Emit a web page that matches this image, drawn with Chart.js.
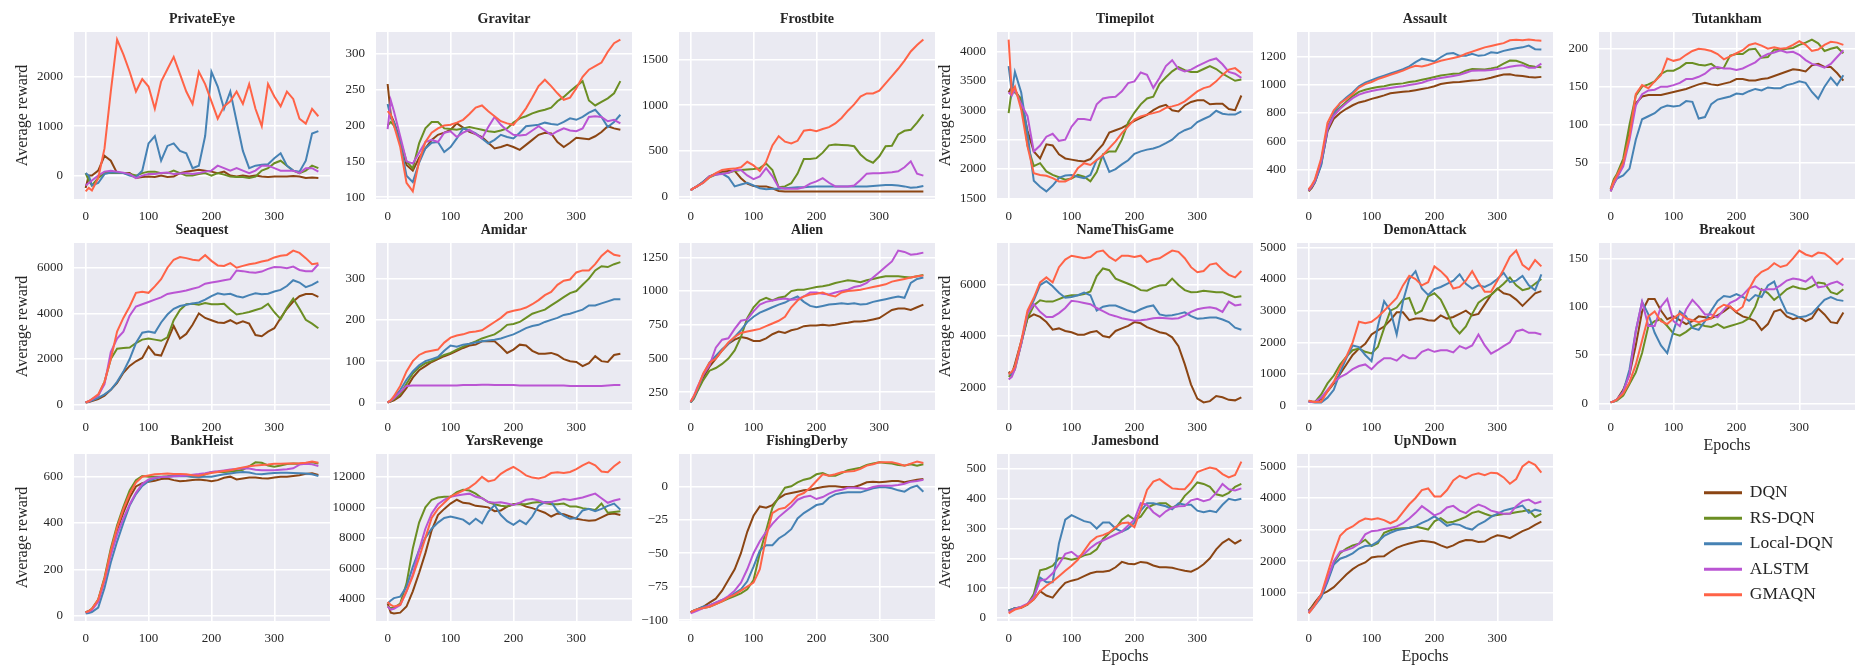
<!DOCTYPE html>
<html>
<head>
<meta charset="utf-8">
<script src="https://cdn.jsdelivr.net/npm/chart.js@4.4.1/dist/chart.umd.min.js"></script>
<style>
  html, body { margin: 0; padding: 0; background: #fff; overflow: hidden; }
  #fig { position: relative; width: 1862px; height: 672px; overflow: hidden; }
  #fig canvas { position: absolute; }
</style>
</head>
<body>
<div id="fig"></div>
<script>
// x values shared by every panel
const epochs = [0,5,10,20,30,40,50,60,70,80,90,100,110,120,130,140,150,160,170,180,190,200,210,220,230,240,250,260,270,280,290,300,310,320,330,340,350,360,370];
const xTickValues = [0, 100, 200, 300];

const seriesNames = ['DQN', 'RS-DQN', 'Local-DQN', 'ALSTM', 'GMAQN'];
const seriesColors = ['#8B4513', '#6B8E23', '#4682B4', '#BA55D3', '#FF6347'];

const gameNames = ['PrivateEye','Gravitar','Frostbite','Timepilot','Assault','Tutankham',
                   'Seaquest','Amidar','Alien','NameThisGame','DemonAttack','Breakout',
                   'BankHeist','YarsRevenge','FishingDerby','Jamesbond','UpNDown'];

// PrivateEye
const peDQN   = [-250,0,0,100,400,300,50,50,50,-50,-30,-20,-30,0,-30,-20,50,80,100,120,100,80,50,80,0,-20,0,-20,0,-20,-30,-20,-20,-20,-10,-20,-50,-40,-50];
const peRS    = [50,-100,-200,-50,50,50,50,50,30,0,50,80,80,50,50,100,50,0,0,30,50,0,50,20,-20,-30,-30,-50,-20,100,150,250,300,200,100,50,100,200,150];
const peLocal = [50,0,-200,-150,30,60,60,50,0,-30,100,650,800,300,600,650,500,450,150,200,800,2100,1800,1350,1700,1100,500,150,200,220,230,350,450,200,100,80,300,850,900];
const peALSTM = [-200,-150,-100,0,80,100,80,60,30,-50,0,30,30,50,60,30,40,50,30,50,80,100,200,150,100,150,100,50,100,200,200,150,100,100,100,50,150,150,80];
const peGMAQN = [-320,-250,-300,-50,550,1700,2750,2450,2100,1700,1950,1800,1350,1900,2150,2400,2050,1700,1450,2100,1850,1500,1150,1400,1500,1700,1450,1850,1350,1000,1850,1600,1400,1700,1550,1150,1050,1350,1200];
const peTicks = [0, 1000, 2000];

// Gravitar
const gvDQN   = [258,215,205,180,145,137,155,168,180,187,190,194,203,197,191,188,184,176,168,170,173,170,166,173,180,187,190,189,177,170,176,183,182,181,185,191,199,196,194];
const gvRS    = [200,205,200,180,150,140,175,196,205,205,196,195,194,196,198,196,194,192,191,193,196,204,210,213,217,220,222,225,234,240,248,255,262,235,228,233,238,245,262];
const gvLocal = [230,210,205,175,130,121,148,168,176,177,163,170,182,196,193,189,182,175,180,187,184,182,190,199,200,201,204,202,201,205,210,208,212,218,222,212,198,205,215];
const gvALSTM = [195,235,220,185,150,147,162,177,180,177,190,192,184,190,194,188,182,198,212,201,193,187,186,187,193,199,193,187,192,196,193,192,196,212,213,212,206,208,203];
const gvGMAQN = [220,215,200,170,120,108,150,177,190,196,200,201,204,208,216,225,228,220,213,206,203,201,212,224,239,255,264,255,245,236,239,252,268,278,283,288,303,315,320];
const gvTicks = [100, 150, 200, 250, 300];

// Frostbite
const fbDQN   = [70,90,110,160,220,250,270,280,280,200,140,115,110,110,90,60,55,55,55,55,55,55,55,55,55,55,55,55,55,55,55,55,55,55,55,55,55,55,55];
const fbRS    = [70,90,110,150,210,240,250,260,280,290,295,300,310,360,290,100,110,145,250,410,410,420,480,560,570,565,560,550,460,400,370,440,550,555,680,720,730,810,900];
const fbLocal = [70,90,110,160,220,240,250,210,110,130,150,120,90,80,85,85,90,95,100,100,105,110,110,110,110,110,110,110,110,110,115,120,125,125,120,110,95,100,115];
const fbALSTM = [70,90,110,150,220,240,245,260,290,290,230,190,220,310,220,100,85,85,85,100,140,165,200,150,110,110,110,120,180,250,255,255,260,265,275,320,385,250,228];
const fbGMAQN = [70,90,110,150,210,256,290,300,305,320,380,340,280,380,560,660,600,580,610,720,730,715,740,760,800,860,940,1010,1095,1130,1130,1160,1240,1320,1400,1490,1590,1660,1720];
const fbTicks = [0, 500, 1000, 1500];

// Timepilot
const tpDQN   = [3300,3400,3350,3150,2650,2300,2180,2420,2400,2250,2180,2160,2140,2130,2170,2300,2420,2620,2660,2700,2760,2820,2870,2920,3000,3060,3090,3000,2980,3080,3140,3170,3170,3100,3110,3110,3020,3000,3250];
const tpRS    = [2950,3350,3300,3200,2400,2050,2100,1960,1900,1860,1820,1840,1900,1870,1790,1950,2250,2300,2300,2500,2790,2960,3100,3200,3230,3450,3560,3660,3730,3680,3650,3650,3700,3750,3700,3620,3560,3500,3520];
const tpLocal = [3750,3300,3650,3300,2600,1800,1700,1620,1720,1850,1890,1900,1870,1845,1900,2155,2215,1950,2000,2080,2150,2260,2300,2330,2350,2385,2440,2500,2600,2660,2700,2800,2850,2900,2990,2940,2925,2925,2980];
const tpALSTM = [3300,3250,3350,3100,2900,2300,2400,2550,2600,2480,2500,2720,2850,2850,2830,3100,3200,3220,3230,3320,3460,3490,3640,3600,3380,3550,3750,3850,3700,3660,3690,3750,3800,3850,3880,3780,3650,3620,3550];
const tpGMAQN = [4200,3300,3400,3010,2385,1930,1900,1885,1845,1790,1790,1845,2015,2100,2070,2155,2240,2355,2470,2610,2725,2840,2895,2925,2950,2980,3040,3065,3095,3150,3235,3320,3375,3405,3490,3600,3690,3715,3630];
const tpTicks = [1500, 2000, 2500, 3000, 3500, 4000];

// Assault
const asDQN   = [245,270,310,440,670,760,800,830,855,875,885,900,912,925,940,945,950,955,962,970,978,990,1005,1012,1018,1020,1025,1030,1033,1040,1050,1062,1072,1075,1065,1062,1055,1052,1056];
const asRS    = [250,280,320,460,700,790,840,880,920,950,965,975,985,990,1000,1005,1010,1020,1025,1035,1045,1055,1065,1072,1078,1080,1100,1112,1110,1108,1115,1125,1150,1172,1170,1155,1135,1128,1125];
const asLocal = [260,280,310,430,680,800,870,910,945,990,1015,1033,1050,1065,1080,1095,1110,1130,1160,1185,1175,1165,1195,1220,1225,1205,1205,1220,1205,1210,1230,1225,1240,1250,1258,1265,1278,1252,1250];
const asALSTM = [250,280,320,460,690,780,830,870,905,930,945,956,965,972,978,984,990,998,1005,1015,1030,1040,1048,1055,1062,1070,1085,1100,1102,1102,1105,1112,1118,1128,1135,1138,1120,1120,1150];
const asGMAQN = [260,290,330,480,730,820,870,900,935,980,1005,1020,1040,1055,1070,1085,1100,1120,1135,1130,1140,1155,1170,1180,1190,1200,1220,1235,1250,1265,1275,1285,1295,1315,1318,1315,1320,1315,1312];
const asTicks = [400, 600, 800, 1000, 1200];

// Tutankham
const tuDQN   = [12,22,30,48,90,128,137,139,139,139,141,143,145,147,150,153,155,153,152,154,156,160,160,158,158,160,161,164,167,170,173,172,170,178,180,176,176,168,158];
const tuRS    = [15,28,35,55,100,138,150,153,157,167,171,171,175,181,181,179,178,180,174,175,191,193,193,199,200,188,189,199,198,200,201,205,208,212,207,197,200,202,194];
const tuLocal = [14,22,29,33,42,80,107,111,115,122,125,124,125,131,130,108,110,127,133,135,137,141,140,144,147,145,149,148,148,152,154,157,155,143,134,150,162,152,165];
const tuALSTM = [12,22,30,45,80,125,140,145,146,150,150,152,155,160,160,163,167,174,176,174,174,172,174,178,182,189,193,195,198,195,196,192,185,180,178,175,180,189,198];
const tuGMAQN = [15,25,33,50,85,140,152,148,157,165,187,184,186,192,197,200,199,197,193,186,190,194,198,205,207,204,200,202,200,201,205,210,205,197,199,205,209,208,205];
const tuTicks = [50, 100, 150, 200];

// Seaquest
const sqDQN   = [100,120,160,250,400,650,950,1400,1700,1900,2050,2550,2200,2150,2800,3450,2900,3100,3500,4000,3800,3700,3600,3580,3700,3550,3650,3550,3050,3000,3200,3350,3800,4200,4520,4750,4850,4850,4720];
const sqRS    = [100,150,220,400,1000,2000,2450,2480,2500,2700,2850,2900,2850,2800,2950,3700,4150,4400,4420,4380,4450,4400,4400,4420,4170,3950,4000,4060,4150,4230,4420,4050,3750,4250,4650,4200,3720,3550,3350];
const sqLocal = [100,130,180,300,450,650,1000,1450,2000,2700,3150,3200,3150,3600,3950,4200,4320,4380,4430,4480,4600,4760,4880,4830,4860,4750,4700,4800,4880,4840,4860,4960,5030,5200,5450,5350,5150,5250,5400];
const sqALSTM = [100,150,230,400,900,2300,2900,3200,3900,4300,4400,4500,4600,4700,4850,4900,4950,5000,5080,5150,5300,5350,5400,5450,5500,5880,5850,5800,5780,5830,5950,6030,6020,5980,6050,5900,5850,5850,6150];
const sqGMAQN = [100,150,250,450,1000,2000,3200,3800,4300,4900,4950,4900,5180,5500,6000,6350,6470,6420,6350,6320,6550,6300,6100,6080,6200,6000,6080,6150,6200,6270,6330,6450,6520,6560,6750,6650,6420,6150,6200];
const sqTicks = [0, 2000, 4000, 6000];

// Amidar
const amDQN   = [0,2,5,15,35,60,78,88,98,105,112,118,125,132,138,140,148,148,148,135,120,128,140,138,125,118,118,120,115,105,100,98,88,95,112,100,98,115,118];
const amRS    = [0,3,8,20,45,70,85,95,100,108,115,120,128,135,142,148,155,160,165,175,188,190,195,205,215,220,225,235,245,255,265,270,285,300,320,330,328,335,340];
const amLocal = [0,5,12,30,55,75,90,100,105,110,125,138,135,140,142,145,148,150,152,155,160,165,172,180,185,188,195,200,205,212,215,220,225,235,235,240,245,250,250];
const amALSTM = [0,4,10,25,40,41,41,41,41,41,41,41,41,42,42,42,43,43,42,42,42,42,41,41,41,41,41,41,41,41,40,40,40,40,40,40,41,42,42];
const amGMAQN = [0,5,15,40,75,100,115,122,125,128,145,157,162,165,170,172,175,185,195,205,218,222,225,230,238,248,260,268,285,295,298,315,320,320,335,355,368,358,355];
const amTicks = [0, 100, 200, 300];

// Alien
const alDQN   = [175,215,260,360,440,500,560,610,640,660,650,630,630,650,680,700,690,710,720,740,745,745,750,745,750,760,765,775,775,780,790,800,830,860,870,870,860,880,900];
const alRS    = [175,200,250,340,410,430,460,500,560,660,800,880,930,950,930,950,960,1000,1010,1010,1020,1030,1035,1045,1060,1070,1080,1075,1065,1080,1090,1100,1110,1110,1110,1105,1100,1110,1120];
const alLocal = [175,210,260,380,470,520,570,610,660,710,770,810,840,860,880,900,915,940,960,920,890,880,890,900,905,910,905,910,900,905,920,930,940,950,960,950,1060,1090,1100];
const alALSTM = [180,220,280,380,450,580,640,650,720,780,790,850,900,920,930,940,945,935,940,960,990,990,980,975,990,1000,1010,1030,1040,1060,1100,1140,1180,1220,1300,1290,1270,1275,1285];
const alGMAQN = [180,220,270,390,470,500,560,620,660,690,700,710,720,740,760,780,810,880,930,960,975,980,990,970,960,990,1000,1005,1010,1020,1030,1040,1050,1070,1080,1090,1100,1110,1115];
const alTicks = [250, 500, 750, 1000, 1250];

// NameThisGame
const ntDQN   = [2600,2500,2900,3800,4700,4850,4750,4550,4250,4300,4200,4150,4050,4050,4150,4200,4000,3950,4200,4300,4400,4550,4500,4350,4250,4150,4100,3950,3600,2900,2100,1550,1400,1450,1650,1600,1500,1480,1600];
const ntRS    = [2400,2500,2700,3700,4700,5200,5400,5350,5350,5450,5550,5600,5600,5650,5750,6350,6650,6580,6250,6150,6050,5950,5800,5780,5900,5980,6000,6250,6000,5800,5720,5730,5780,5750,5720,5720,5620,5520,5560];
const ntLocal = [2500,2500,2800,3700,4900,5400,6000,6150,5950,5700,5500,5530,5600,5700,5600,5000,5150,5200,5200,5100,5000,4930,5050,5150,5200,4850,4800,4820,4870,4930,4780,4680,4700,4730,4730,4650,4550,4330,4250];
const ntALSTM = [2300,2400,2700,3700,4900,5250,4950,4750,4750,4900,5100,5380,5350,5300,5250,5100,4980,4850,4780,4700,4650,4600,4620,4650,4700,4720,4700,4680,4700,4800,4950,5050,5100,5130,5080,4950,5350,5200,5240];
const ntGMAQN = [2500,2600,2800,3800,5000,5500,6100,6300,6100,6700,7000,7150,7100,7050,7100,7300,7350,7100,6950,7150,7150,7100,7150,6900,7000,7050,7200,7350,7300,7050,6700,6500,6550,6800,6850,6600,6400,6300,6550];
const ntTicks = [2000, 4000, 6000];

// DemonAttack
const daDQN   = [150,130,120,200,450,700,1000,1300,1600,1800,1950,2250,2380,2500,2700,2950,2950,2700,2750,2750,2700,2680,2850,2750,2800,2900,3000,2850,2900,3200,3500,3700,3550,3500,3350,3150,3350,3550,3620];
const daRS    = [120,110,110,350,700,950,1300,1550,1750,1800,1700,1650,1850,2450,3000,3100,3350,3400,2900,3000,3450,3550,3350,2950,2500,2280,2500,2900,3250,3400,3500,3680,3850,4050,3800,3650,3700,3850,4000];
const daLocal = [120,110,100,100,250,500,1050,1500,1900,1850,1600,1400,2500,3300,3000,2250,3300,4000,4250,3700,3500,3680,3750,3850,3950,4150,3850,3700,3800,3750,3850,4000,4200,3900,3950,4100,3800,3650,4150];
const daALSTM = [120,110,110,250,500,750,900,1000,1150,1250,1300,1150,1350,1500,1500,1420,1600,1500,1500,1700,1780,1700,1750,1750,1680,1880,1800,1900,2250,1900,1640,1750,1880,2000,2350,2400,2300,2300,2250];
const daGMAQN = [150,130,110,120,450,750,1200,1550,2000,2650,2600,2650,2800,3000,3200,3400,3800,4100,4000,3800,3900,4400,4250,4050,3700,3750,3950,4250,3900,3600,3600,3950,4300,4700,4900,4450,4300,4600,4400];
const daTicks = [0, 1000, 2000, 3000, 4000, 5000];

// Breakout
const brDQN   = [1,2,4,14,30,60,95,108,108,96,87,90,86,82,85,90,89,88,91,95,100,94,90,88,85,76,82,95,97,90,87,89,85,88,98,92,84,83,94];
const brRS    = [1,2,3,8,20,32,52,80,85,87,80,72,70,74,79,82,80,79,82,78,80,82,84,88,100,118,114,107,112,118,121,119,118,121,125,124,115,113,118];
const brLocal = [1,2,4,12,35,75,105,92,73,60,52,75,95,90,78,76,85,96,106,111,110,113,110,106,112,110,122,126,108,94,92,89,90,93,100,107,110,107,106];
const brALSTM = [1,2,4,12,30,75,105,80,80,100,108,85,80,97,107,100,92,92,89,97,104,107,112,119,121,117,118,118,122,127,129,128,126,131,120,121,124,126,122];
const brGMAQN = [1,2,4,10,22,40,65,90,95,85,82,88,93,88,86,84,86,88,98,102,100,95,100,118,130,136,139,145,141,143,150,158,154,152,156,155,150,144,150];
const brTicks = [0, 50, 100, 150];

// BankHeist
const bhDQN   = [15,20,28,65,155,270,370,445,510,558,572,578,582,590,592,585,580,582,586,588,585,580,585,595,600,588,592,596,596,593,592,596,600,600,603,606,612,615,607];
const bhRS    = [15,20,30,70,165,290,390,470,540,585,603,600,600,600,602,605,607,604,600,600,610,620,621,620,622,625,630,645,662,660,648,643,648,655,657,656,657,662,657];
const bhLocal = [10,12,16,35,120,230,320,400,475,525,560,580,592,598,600,602,603,602,600,598,600,600,605,610,614,618,620,618,612,610,614,616,617,617,616,615,614,610,603];
const bhALSTM = [15,18,25,60,150,260,350,420,480,530,568,588,595,598,600,602,603,605,608,611,615,620,623,627,631,633,636,635,630,628,628,628,630,632,636,652,656,653,646];
const bhGMAQN = [15,20,30,70,160,280,380,460,525,575,600,605,610,612,614,612,612,610,606,604,610,616,620,624,628,634,640,645,648,650,652,656,656,657,657,658,660,665,660];
const bhTicks = [0, 200, 400, 600];

// YarsRevenge
const yrDQN   = [3700,3100,3050,3100,3500,4500,5700,7000,8500,9500,9900,10250,10500,10300,10250,10100,10050,10000,9750,9800,10050,10200,10250,10050,9950,9800,9650,9400,9600,9550,9400,9250,9180,9130,9150,9350,9550,9600,9500];
const yrRS    = [3500,3400,3400,3700,5000,7300,9000,10000,10500,10650,10700,10700,11000,11150,11100,10900,10600,10350,10200,10100,10050,10200,10200,10200,10300,10350,10280,10200,10200,10250,10050,10050,9950,9900,9830,10250,9650,9700,9750];
const yrLocal = [3700,3900,4050,4150,4800,6100,7200,8000,8600,9000,9300,9400,9300,9200,8900,9250,8950,9700,10150,9500,9100,8850,9150,8900,9400,10100,10350,10350,9750,9450,9250,9300,9800,9900,9750,9900,10100,10250,9850];
const yrALSTM = [3500,3300,3350,3600,4500,5600,7200,8600,9600,10200,10500,10700,10780,10850,10900,10700,10600,10350,10300,10330,10250,10150,10300,10500,10550,10450,10300,10350,10450,10550,10480,10570,10650,10780,10900,10600,10300,10450,10550];
const yrGMAQN = [3800,3600,3500,3600,4500,5500,6700,8000,9300,9900,10300,10700,10900,11100,11300,11600,12000,11700,11800,12200,12450,12650,12400,12100,11950,11900,12000,12250,12300,12250,12320,12500,12750,12950,12750,12350,12300,12700,13000];
const yrTicks = [4000, 6000, 8000, 10000, 12000];

// FishingDerby
const fdDQN   = [-94,-93,-92,-90,-87,-84,-78,-70,-62,-50,-34,-22,-15,-16,-14,-9,-6,-5,-4,-3,-2.5,-1.5,-0.5,0,0,-0.5,-0.5,-0.5,1,3,3.5,3,3.5,4,4,3,4,5,5.5];
const fdRS    = [-94,-93,-92,-91,-90,-88,-86,-84,-82,-80,-77,-70,-50,-33,-16,-8,-1,0,3,5,6,9,10,8,8,10,12,13,14,16,17,18,17.5,17,16,15.5,16.5,15.5,16.5];
const fdLocal = [-94,-93,-92,-90,-89,-87,-85,-83,-80,-77,-71,-60,-48,-44,-44,-39,-36,-32,-24,-20,-17,-14,-13,-8.5,-6,-5,-4.5,-4.5,-4.5,-3,-1.5,-0.7,-0.7,-1.5,-3,-4,-1,0.5,-4];
const fdALSTM = [-95,-94,-93,-91,-89,-87,-85,-82,-78,-72,-62,-50,-41,-34,-28,-23,-19,-15,-10,-8,-7,-9.5,-8,-5.5,-3.5,-2.5,-1,-1,-1.5,-2,-0.5,0.5,0.5,0.5,1,2,3.5,4,5];
const fdGMAQN = [-94,-93,-92,-91,-90,-88,-86,-83,-81,-78,-75,-72,-62,-38,-20,-17,-16,-12,-7,-5,-1,4,9,8,9,10.5,11,11.5,13,15.5,16.5,18,18,18,17,15.5,17,18.5,17.5];
const fdTicks = [-100, -75, -50, -25, 0];

// Jamesbond
const jbDQN   = [25,28,32,35,45,62,90,75,68,95,118,125,130,140,150,155,155,158,170,188,182,180,188,185,176,170,170,168,163,158,155,165,180,200,230,252,265,250,262];
const jbRS    = [25,28,32,35,45,80,160,165,175,200,200,195,200,210,215,230,265,285,300,330,345,330,340,370,380,385,385,370,380,410,430,455,450,440,415,410,420,440,450];
const jbLocal = [25,28,32,35,45,70,135,120,120,250,330,345,335,325,320,300,320,320,300,290,300,320,360,385,385,380,375,365,385,380,380,360,355,360,355,380,400,395,400];
const jbALSTM = [20,24,30,38,48,70,125,130,150,180,215,222,205,215,235,250,260,270,280,290,310,330,385,380,355,340,358,370,375,376,395,400,392,398,420,450,432,428,435];
const jbGMAQN = [15,22,28,34,45,62,90,108,122,140,158,175,195,225,255,272,278,287,305,318,320,305,365,430,458,466,450,435,433,432,455,490,498,505,500,483,472,480,525];
const jbTicks = [0, 100, 200, 300, 400, 500];

// UpNDown
const udDQN   = [440,560,700,950,1050,1180,1380,1580,1750,1880,1960,2120,2150,2160,2300,2420,2500,2560,2610,2650,2620,2590,2500,2430,2500,2610,2670,2660,2610,2620,2740,2820,2790,2730,2840,2950,3030,3150,3250];
const udRS    = [420,520,640,900,1400,1950,2250,2400,2500,2550,2680,2480,2570,2900,2980,3030,3040,3050,3100,3050,3000,3260,3360,3220,3250,3320,3400,3530,3580,3500,3430,3460,3490,3510,3550,3580,3620,3400,3500];
const udLocal = [370,480,600,860,1350,1900,2080,2150,2250,2400,2480,2500,2620,2800,2900,2980,3020,3060,3110,3210,3300,3420,3280,3120,3180,3150,3050,3000,3160,3260,3400,3500,3600,3650,3700,3760,3530,3630,3580];
const udALSTM = [400,500,620,950,1450,2000,2300,2350,2420,2550,2850,2950,2970,3020,3050,3100,3200,3350,3530,3740,3600,3450,3530,3700,3750,3600,3520,3680,3790,3720,3600,3550,3500,3500,3740,3900,3950,3830,3890];
const udGMAQN = [350,480,620,950,1600,2250,2800,3000,3100,3250,3350,3320,3360,3300,3200,3300,3550,3800,4000,4250,4300,4050,4050,4250,4550,4700,4620,4730,4780,4720,4800,4780,4650,4450,4600,5000,5150,5050,4800];
const udTicks = [1000, 2000, 3000, 4000, 5000];

// tables built from the arrays above
const gameSeries = [
  [peDQN, peRS, peLocal, peALSTM, peGMAQN],
  [gvDQN, gvRS, gvLocal, gvALSTM, gvGMAQN],
  [fbDQN, fbRS, fbLocal, fbALSTM, fbGMAQN],
  [tpDQN, tpRS, tpLocal, tpALSTM, tpGMAQN],
  [asDQN, asRS, asLocal, asALSTM, asGMAQN],
  [tuDQN, tuRS, tuLocal, tuALSTM, tuGMAQN],
  [sqDQN, sqRS, sqLocal, sqALSTM, sqGMAQN],
  [amDQN, amRS, amLocal, amALSTM, amGMAQN],
  [alDQN, alRS, alLocal, alALSTM, alGMAQN],
  [ntDQN, ntRS, ntLocal, ntALSTM, ntGMAQN],
  [daDQN, daRS, daLocal, daALSTM, daGMAQN],
  [brDQN, brRS, brLocal, brALSTM, brGMAQN],
  [bhDQN, bhRS, bhLocal, bhALSTM, bhGMAQN],
  [yrDQN, yrRS, yrLocal, yrALSTM, yrGMAQN],
  [fdDQN, fdRS, fdLocal, fdALSTM, fdGMAQN],
  [jbDQN, jbRS, jbLocal, jbALSTM, jbGMAQN],
  [udDQN, udRS, udLocal, udALSTM, udGMAQN]
];
const gameTicks = [peTicks, gvTicks, fbTicks, tpTicks, asTicks, tuTicks, sqTicks, amTicks, alTicks,
                   ntTicks, daTicks, brTicks, bhTicks, yrTicks, fdTicks, jbTicks, udTicks];
const epochsLabelled = ['Breakout', 'Jamesbond', 'UpNDown'];

// ---- layout (px) ----
const COL_LEFT = [74, 376, 679, 997, 1297, 1599];
const ROW_TOP = [32, 243, 454];
const PLOT_W = 256, PLOT_H = 167;
const AXIS_W = 62, RIGHT_PAD = 6, TITLE_H = 26;
const XAXIS_H = 26, XAXIS_H_TITLE = 47;

const TEXT = '#262626';
Chart.defaults.font.family = "'Liberation Serif', 'Times New Roman', serif";
Chart.defaults.color = TEXT;

// seaborn style panel background
const plotBackground = {
  id: 'plotBackground',
  beforeDraw(chart) {
    const { ctx, chartArea: a } = chart;
    ctx.save();
    ctx.fillStyle = '#EAEAF2';
    ctx.fillRect(a.left, a.top, a.right - a.left, a.bottom - a.top);
    ctx.restore();
  }
};

// matplotlib-like 5% margins
function paddedRange(lo, hi) {
  const m = (hi - lo) * 0.05;
  return [lo - m, hi + m];
}

function fmtTick(v) {
  return v < 0 ? '\u2212' + Math.abs(v) : String(v);
}

const fig = document.getElementById('fig');
const xRange = paddedRange(epochs[0], epochs[epochs.length - 1]);

gameNames.forEach((name, i) => {
  const row = Math.floor(i / 6), col = i % 6;
  const hasXTitle = epochsLabelled.includes(name);
  const hasYTitle = col === 0 || col === 3;
  const xH = hasXTitle ? XAXIS_H_TITLE : XAXIS_H;

  const canvas = document.createElement('canvas');
  const w = AXIS_W + PLOT_W + RIGHT_PAD;
  const h = TITLE_H + PLOT_H + xH;
  canvas.width = w;
  canvas.height = h;
  canvas.style.width = w + 'px';
  canvas.style.height = h + 'px';
  canvas.style.left = (COL_LEFT[col] - AXIS_W) + 'px';
  canvas.style.top = (ROW_TOP[row] - TITLE_H) + 'px';
  fig.appendChild(canvas);

  const series = gameSeries[i];
  const all = series.flat();
  const yRange = paddedRange(Math.min(...all), Math.max(...all));
  const yTicks = gameTicks[i];

  new Chart(canvas, {
    type: 'line',
    data: {
      datasets: series.map((vals, k) => ({
        label: seriesNames[k],
        data: epochs.map((x, j) => ({ x: x, y: vals[j] })),
        borderColor: seriesColors[k],
        borderWidth: 2,
        pointRadius: 0,
        fill: false,
        tension: 0,
        order: seriesNames.length - k
      }))
    },
    options: {
      responsive: false,
      animation: false,
      events: [],
      layout: { padding: { left: 0, right: RIGHT_PAD, top: 0, bottom: 0 } },
      plugins: {
        legend: { display: false },
        tooltip: { enabled: false },
        title: {
          display: true,
          text: name,
          fullSize: false,
          color: TEXT,
          font: { size: 14, weight: 'bold' },
          padding: { top: 5, bottom: 4.2 }
        }
      },
      scales: {
        x: {
          type: 'linear',
          min: xRange[0],
          max: xRange[1],
          afterBuildTicks: s => { s.ticks = xTickValues.map(v => ({ value: v })); },
          afterFit: s => { s.height = xH; },
          grid: { color: '#ffffff', lineWidth: 1.6, drawTicks: false },
          border: { display: false },
          ticks: { padding: 10, font: { size: 13 }, color: TEXT, maxRotation: 0, autoSkip: false, callback: fmtTick },
          title: { display: hasXTitle, text: 'Epochs', color: TEXT, font: { size: 16 }, padding: { top: 0, bottom: 2 } }
        },
        y: {
          type: 'linear',
          min: yRange[0],
          max: yRange[1],
          afterBuildTicks: s => { s.ticks = yTicks.map(v => ({ value: v })); },
          afterFit: s => { s.width = AXIS_W; },
          grid: { color: '#ffffff', lineWidth: 1.6, drawTicks: false },
          border: { display: false },
          ticks: { padding: 11, font: { size: 13 }, color: TEXT, autoSkip: false, callback: fmtTick },
          title: { display: hasYTitle, text: 'Average reward', color: TEXT, font: { size: 16 }, padding: { top: 1, bottom: 0 } }
        }
      }
    },
    plugins: [plotBackground]
  });
});

// legend panel (bottom right)
const legCanvas = document.createElement('canvas');
legCanvas.width = 330;
legCanvas.height = 150;
legCanvas.style.width = '330px';
legCanvas.style.height = '150px';
legCanvas.style.left = '1697px';
legCanvas.style.top = '476px';
fig.appendChild(legCanvas);

new Chart(legCanvas, {
  type: 'line',
  data: {
    datasets: seriesNames.map((n, k) => ({
      label: n, data: [], borderColor: seriesColors[k], backgroundColor: seriesColors[k], borderWidth: 2
    }))
  },
  options: {
    responsive: false,
    animation: false,
    events: [],
    layout: { padding: 0 },
    scales: { x: { display: false }, y: { display: false } },
    plugins: {
      tooltip: { enabled: false },
      legend: {
        position: 'left',
        align: 'start',
        labels: { boxWidth: 36, boxHeight: 1, padding: 8, color: TEXT, font: { size: 17.5 } }
      }
    }
  }
});
</script>
</body>
</html>
